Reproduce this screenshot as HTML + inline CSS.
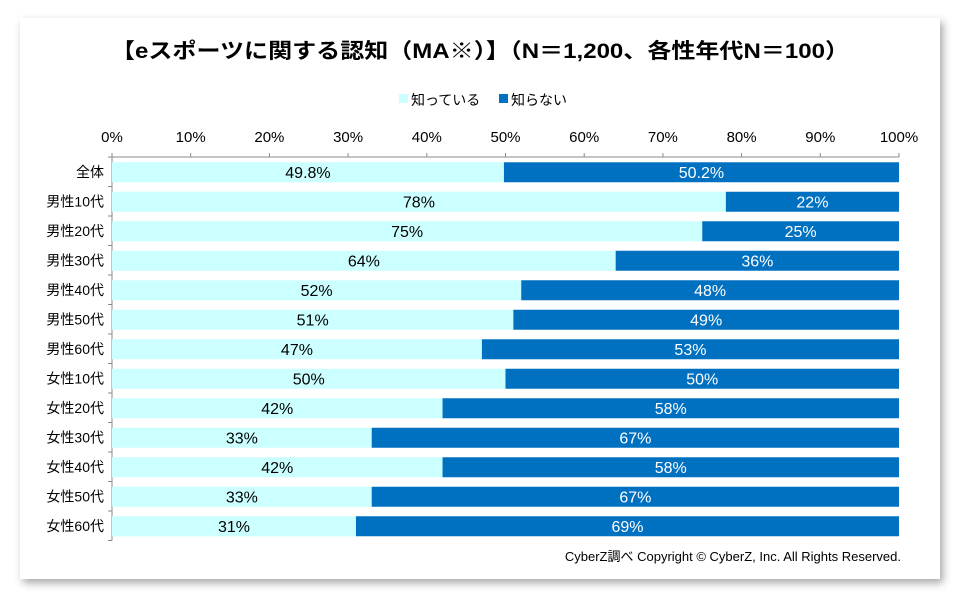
<!DOCTYPE html>
<html><head><meta charset="utf-8"><style>
body{margin:0;background:#fff;width:960px;height:600px;overflow:hidden;font-family:"Liberation Sans","Noto Sans CJK JP",sans-serif}
#card{position:absolute;left:20px;top:18px;width:920px;height:561px;background:#fff;box-shadow:3px 4px 8px rgba(0,0,0,0.35)}
svg{position:absolute;left:0;top:0}
</style></head><body>
<div id="card"></div>
<svg id="chart" width="960" height="600">
<text x="480" y="58" text-anchor="middle" font-size="21" font-weight="bold" fill="#000" textLength="738" lengthAdjust="spacingAndGlyphs">【eスポーツに関する認知（MA※）】（N＝1,200、各性年代N＝100）</text>
<g>
<rect x="399" y="94" width="9" height="9" fill="#CCFFFF"/>
<text x="411" y="105" font-size="14">知っている</text>
<rect x="499" y="94" width="9" height="9" fill="#0070C0"/>
<text x="511" y="105" font-size="14">知らない</text>
</g>
<text x="901" y="561" text-anchor="end" font-size="13">CyberZ調べ Copyright © CyberZ, Inc. All Rights Reserved.</text>
<g id="plot"></g>
</svg>
<script>
const categories=["全体","男性10代","男性20代","男性30代","男性40代","男性50代","男性60代","女性10代","女性20代","女性30代","女性40代","女性50代","女性60代"];
const knowValues=[49.8,78,75,64,52,51,47,50,42,33,42,33,31];
const dontKnowValues=[50.2,22,25,36,48,49,53,50,58,67,58,67,69];
const knowLabels=["49.8%","78%","75%","64%","52%","51%","47%","50%","42%","33%","42%","33%","31%"];
const dontKnowLabels=["50.2%","22%","25%","36%","48%","49%","53%","50%","58%","67%","58%","67%","69%"];
const tickValues=[0,10,20,30,40,50,60,70,80,90,100];
const tickLabels=["0%","10%","20%","30%","40%","50%","60%","70%","80%","90%","100%"];
const NS="http://www.w3.org/2000/svg";
const g=document.getElementById('plot');
const x0=112,x1=899,yTop=157,rowH=29.5,barH=20;
const xs=v=>x0+(x1-x0)*v/100;
const ys=i=>yTop+i*rowH;
function mk(tag,attrs){const e=document.createElementNS(NS,tag);for(const k in attrs)e.setAttribute(k,attrs[k]);g.appendChild(e);return e;}
const yEnd=ys(categories.length);
let ax=mk('line',{x1:x0,y1:yTop,x2:x1,y2:yTop,stroke:'#888','stroke-width':1});


let ay=mk('line',{x1:x0,y1:yTop,x2:x0,y2:yEnd,stroke:'#888','stroke-width':1});


tickValues.forEach((v,i)=>{
 let t=mk('line',{x1:xs(v),y1:yTop-4,x2:xs(v),y2:yTop,stroke:'#888'});
 
 
 let l=mk('text',{x:xs(v),y:yTop-15,'text-anchor':'middle','font-size':15,fill:'#000'});
 l.textContent=tickLabels[i];
 
 
});
for(let i=0;i<=categories.length;i++){
 let t=mk('line',{x1:x0-4,y1:ys(i),x2:x0,y2:ys(i),stroke:'#888'});
 
 
}
categories.forEach((c,i)=>{
 const y=ys(i)+(rowH-barH)/2+0.5,cy=ys(i)+rowH/2;
 let l=mk('text',{x:x0-8,y:cy+5,'text-anchor':'end','font-size':14,fill:'#000'});
 l.textContent=c;
 
 
 const k=knowValues[i],d=dontKnowValues[i];
 let b1=mk('rect',{x:xs(0),y:y,width:xs(k)-xs(0),height:barH,fill:'#CCFFFF'});
 
 
 let b2=mk('rect',{x:xs(k),y:y,width:xs(k+d)-xs(k),height:barH,fill:'#0070C0'});
 
 
 let t1=mk('text',{x:(xs(0)+xs(k))/2,y:cy+6,'text-anchor':'middle','font-size':16,fill:'#000'});
 t1.textContent=knowLabels[i];
 
 
 let t2=mk('text',{x:(xs(k)+xs(k+d))/2,y:cy+6,'text-anchor':'middle','font-size':16,fill:'#fff'});
 t2.textContent=dontKnowLabels[i];
 
 
});
</script>
</body></html>
